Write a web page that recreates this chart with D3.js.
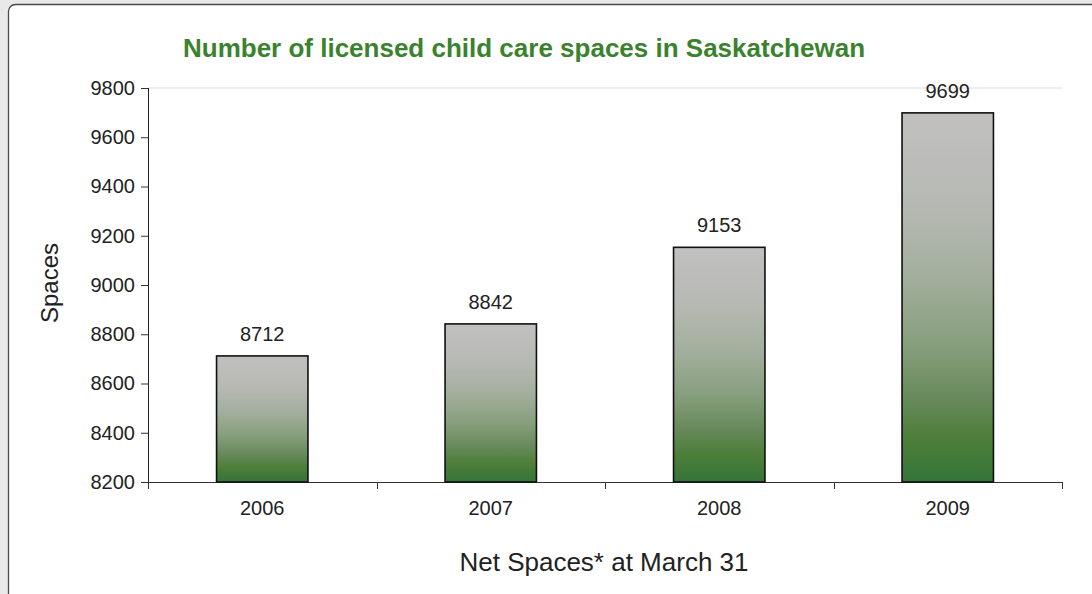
<!DOCTYPE html>
<html>
<head>
<meta charset="utf-8">
<script src="https://cdn.jsdelivr.net/npm/d3@7"></script>
<style>
  body { margin: 0; background: #e9e9e9; font-family: "Liberation Sans", Arial, sans-serif; }
  svg { display: block; }
</style>
</head>
<body>
<div id="chart"></div>
<script>
// chart values
const years = ["2006", "2007", "2008", "2009"];
const spaces = [8712, 8842, 9153, 9699];
const yTicks = [8200, 8400, 8600, 8800, 9000, 9200, 9400, 9600, 9800];

var W = 1092, H = 594;
var margin = {top: 88, right: 30, bottom: 112, left: 148},
    width = 1062 - margin.left,
    height = 482 - margin.top;

var svg = d3.select("#chart").append("svg")
    .attr("width", W)
    .attr("height", H);

// white panel with dark rounded border
svg.append("rect")
  .attr("x", 8.5).attr("y", 4.5)
  .attr("width", 1090).attr("height", 610)
  .attr("rx", 7)
  .attr("fill", "#fff")
  .attr("stroke", "#4a4a4a")
  .attr("stroke-width", 1.3);

// bar gradient, gray at top fading to green at the base
var grad = svg.append("defs").append("linearGradient")
  .attr("id", "barFill")
  .attr("x1", 0).attr("y1", 0).attr("x2", 0).attr("y2", 1);
[["0%", "#c1c0bf"], ["25%", "#b6b9b3"], ["45%", "#a2ae9c"], ["62%", "#88a07e"],
 ["78%", "#66895a"], ["88%", "#4e7f3a"], ["100%", "#347439"]].forEach(function(s) {
  grad.append("stop").attr("offset", s[0]).attr("stop-color", s[1]);
});

var g = svg.append("g")
  .attr("transform", "translate(" + margin.left + "," + margin.top + ")");

var x = d3.scaleBand().domain(years).range([0, width]).paddingInner(0.6).paddingOuter(0.3);
var band = d3.scaleBand().domain(years).range([0, width]);
var y = d3.scaleLinear().domain([8200, 9800]).range([height, 0]);

// top grid line
g.append("line")
  .attr("x1", 0).attr("x2", width)
  .attr("y1", y(9800)).attr("y2", y(9800))
  .attr("stroke", "#dcdcdc");

// y axis
var yAxis = g.append("g")
  .call(d3.axisLeft(y).tickValues(yTicks).tickSize(7).tickPadding(6).tickFormat(d3.format("d")));
yAxis.select(".domain").attr("stroke", "#222").attr("d", "M0.5," + y(8200) + "V" + y(9800));
yAxis.selectAll(".tick line").attr("stroke", "#333");
yAxis.selectAll("text")
  .attr("font-family", "Liberation Sans, Arial, sans-serif")
  .attr("font-size", "20px")
  .attr("fill", "#222");

// x axis with ticks between categories
var xAxis = g.append("g").attr("transform", "translate(0," + height + ")");
xAxis.append("line")
  .attr("x1", 0).attr("x2", width).attr("y1", 0.5).attr("y2", 0.5)
  .attr("stroke", "#333");
var bounds = years.map(function(d) { return band(d); }).concat([width]);
xAxis.selectAll("line.tk").data(bounds).enter().append("line")
  .attr("class", "tk")
  .attr("x1", function(d) { return Math.round(d) + 0.5; })
  .attr("x2", function(d) { return Math.round(d) + 0.5; })
  .attr("y1", 0).attr("y2", 7)
  .attr("stroke", "#333");
xAxis.selectAll("text").data(years).enter().append("text")
  .attr("x", function(d) { return band(d) + band.bandwidth() / 2; })
  .attr("y", 33)
  .attr("text-anchor", "middle")
  .attr("font-size", "20px")
  .attr("fill", "#222")
  .text(function(d) { return d; });

// bars
g.selectAll("rect.bar").data(years).enter().append("rect")
  .attr("class", "bar")
  .attr("x", function(d) { return x(d); })
  .attr("width", x.bandwidth())
  .attr("y", function(d, i) { return y(spaces[i]); })
  .attr("height", function(d, i) { return height - y(spaces[i]); })
  .attr("fill", "url(#barFill)")
  .attr("stroke", "#111")
  .attr("stroke-width", 1.6);

// value labels
g.selectAll("text.val").data(years).enter().append("text")
  .attr("class", "val")
  .attr("x", function(d) { return x(d) + x.bandwidth() / 2; })
  .attr("y", function(d, i) { return y(spaces[i]) - 15; })
  .attr("text-anchor", "middle")
  .attr("font-size", "20px")
  .attr("fill", "#222")
  .text(function(d, i) { return spaces[i]; });

// title
svg.append("text")
  .attr("x", 524).attr("y", 57)
  .attr("text-anchor", "middle")
  .attr("font-size", "26px")
  .attr("font-weight", 700)
  .attr("fill", "#3b822f")
  .text("Number of licensed child care spaces in Saskatchewan");

// axis titles
svg.append("text")
  .attr("transform", "translate(58," + (margin.top + height / 2 - 2) + ") rotate(-90)")
  .attr("text-anchor", "middle")
  .attr("font-size", "24px")
  .attr("fill", "#222")
  .text("Spaces");

svg.append("text")
  .attr("x", 604).attr("y", 571)
  .attr("text-anchor", "middle")
  .attr("font-size", "26px")
  .attr("fill", "#222")
  .text("Net Spaces* at March 31");
</script>
</body>
</html>
